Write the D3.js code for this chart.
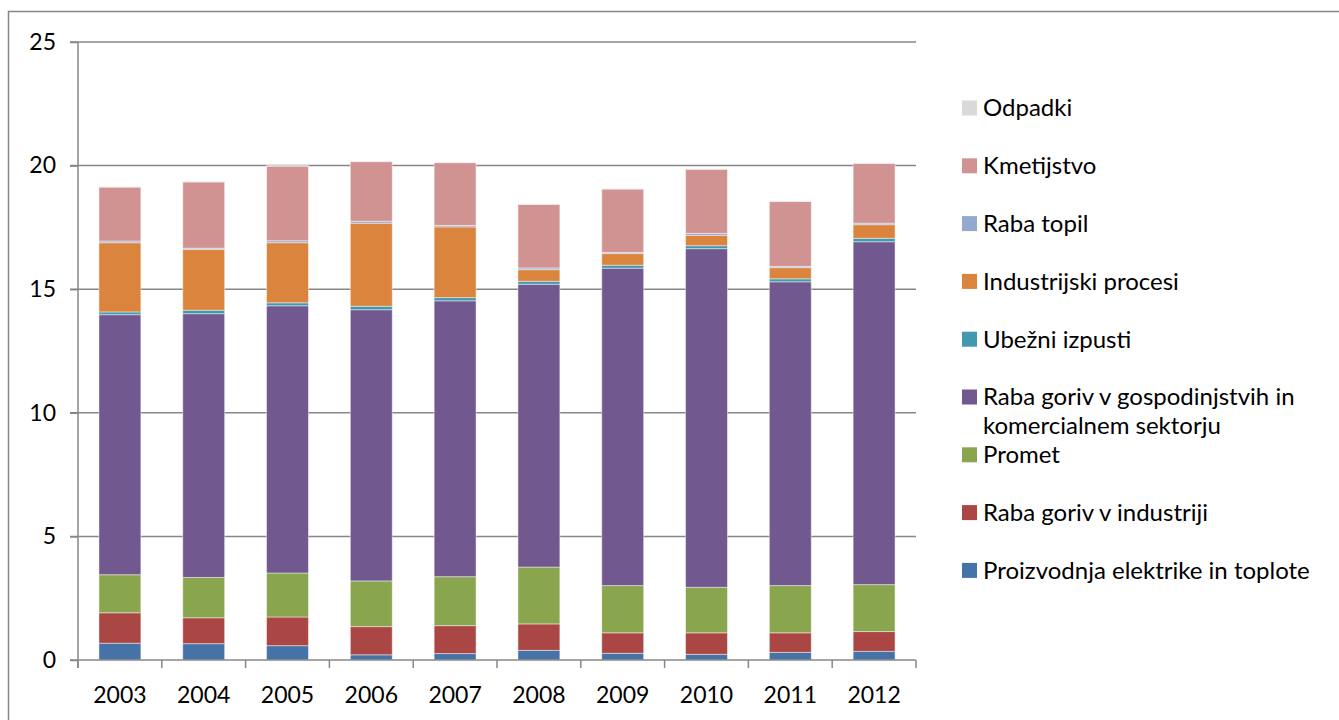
<!DOCTYPE html>
<html>
<head>
<meta charset="utf-8">
<script src="https://cdn.jsdelivr.net/npm/d3@7"></script>
<style>
  body { margin: 0; background: #fff; }
  svg { display: block; font-family: Lato, "Open Sans", sans-serif; }
</style>
</head>
<body>
<svg id="chart" width="1339" height="720"></svg>
<script>
const years = ["2003", "2004", "2005", "2006", "2007", "2008", "2009", "2010", "2011", "2012"];

// series, bottom to top
const proizvodnja = [0.68, 0.66, 0.58, 0.21, 0.26, 0.39, 0.27, 0.23, 0.31, 0.35];
const industrija  = [1.23, 1.05, 1.16, 1.14, 1.13, 1.07, 0.83, 0.87, 0.79, 0.80];
const promet      = [1.54, 1.63, 1.78, 1.85, 1.98, 2.30, 1.91, 1.84, 1.91, 1.90];
const gospodinj   = [10.52, 10.67, 10.81, 10.97, 11.16, 11.44, 12.84, 13.70, 12.29, 13.87];
const ubezni      = [0.11, 0.14, 0.12, 0.14, 0.13, 0.12, 0.12, 0.12, 0.12, 0.14];
const procesi     = [2.80, 2.46, 2.43, 3.36, 2.86, 0.47, 0.47, 0.42, 0.45, 0.55];
const topila      = [0.07, 0.05, 0.08, 0.08, 0.06, 0.07, 0.05, 0.08, 0.05, 0.06];
const kmetijstvo  = [2.18, 2.68, 3.02, 2.41, 2.54, 2.57, 2.56, 2.59, 2.63, 2.42];
const odpadki     = [0.02, 0.02, 0.02, 0.02, 0.02, 0.02, 0.02, 0.02, 0.02, 0.02];

const yTicks = [0, 5, 10, 15, 20, 25];

const series = [
  { key: "Proizvodnja elektrike in toplote", values: proizvodnja, color: "#4572a7" },
  { key: "Raba goriv v industriji", values: industrija, color: "#aa4643" },
  { key: "Promet", values: promet, color: "#89a54e" },
  { key: "Raba goriv v gospodinjstvih in|komercialnem sektorju", values: gospodinj, color: "#71588f" },
  { key: "Ubežni izpusti", values: ubezni, color: "#4198af" },
  { key: "Industrijski procesi", values: procesi, color: "#db843d" },
  { key: "Raba topil", values: topila, color: "#93a9cf" },
  { key: "Kmetijstvo", values: kmetijstvo, color: "#d19392" },
  { key: "Odpadki", values: odpadki, color: "#d9d9d9" }
];

const margins = { top: 42, left: 78, right: 423, bottom: 60 };
const width = 1339, height = 720;

const svg = d3.select("#chart");

// outer frame
svg.append("rect")
  .attr("x", 8.5).attr("y", 11.5)
  .attr("width", 1340).attr("height", 720)
  .attr("fill", "none")
  .attr("stroke", "#878787")
  .attr("stroke-width", 1.5);

const table = years.map((y, i) => {
  const row = { year: y };
  series.forEach(s => row[s.key] = s.values[i]);
  return row;
});
const stacked = d3.stack().keys(series.map(s => s.key))(table);

const x = d3.scaleBand()
  .domain(years)
  .range([margins.left, width - margins.right])
  .paddingInner(0.5)
  .paddingOuter(0.25);

const y = d3.scaleLinear()
  .domain([0, 25])
  .range([660, margins.top]);

// gridlines
svg.append("g")
  .selectAll("line")
  .data(yTicks.filter(d => d > 0))
  .join("line")
  .attr("x1", margins.left - 8)
  .attr("x2", width - margins.right)
  .attr("y1", d => y(d))
  .attr("y2", d => y(d))
  .attr("stroke", "#878787")
  .attr("stroke-width", 1.5);

// bars
const color = d3.scaleOrdinal().domain(series.map(s => s.key)).range(series.map(s => s.color));
svg.append("g")
  .selectAll("g")
  .data(stacked)
  .join("g")
  .attr("fill", d => color(d.key))
  .selectAll("rect")
  .data(d => d)
  .join("rect")
  .attr("x", d => x(d.data.year))
  .attr("y", d => y(d[1]))
  .attr("height", d => y(d[0]) - y(d[1]))
  .attr("width", x.bandwidth())
  .attr("stroke", "#ffffff")
  .attr("stroke-opacity", 0.45)
  .attr("stroke-width", 1);

// y axis
const yAxis = d3.axisLeft(y).tickValues(yTicks).tickSize(8).tickPadding(14);
svg.append("g")
  .attr("class", "axis y-axis")
  .attr("transform", `translate(${margins.left},0)`)
  .call(yAxis)
  .call(g => g.select(".domain").attr("d", `M0,${y(25)}V668`))
  .call(g => g.selectAll("line, path").attr("stroke", "#878787").attr("stroke-width", 1.5))
  .call(g => g.selectAll("text").attr("font-size", 23).attr("fill", "#000").attr("font-family", "Lato"));

// x axis
svg.append("g")
  .attr("class", "axis x-axis")
  .attr("transform", `translate(0,660)`)
  .call(g => g.append("line")
    .attr("x1", margins.left - 8).attr("x2", width - margins.right)
    .attr("stroke", "#878787").attr("stroke-width", 1.5))
  .call(g => g.selectAll("line.tick")
    .data(d3.range(years.length + 1))
    .join("line")
    .attr("class", "tick")
    .attr("x1", i => margins.left + i * (width - margins.left - margins.right) / years.length)
    .attr("x2", i => margins.left + i * (width - margins.left - margins.right) / years.length)
    .attr("y1", 0).attr("y2", 8)
    .attr("stroke", "#878787").attr("stroke-width", 1.5))
  .call(g => g.selectAll("text")
    .data(years)
    .join("text")
    .attr("x", d => x(d) + x.bandwidth() / 2)
    .attr("y", 43)
    .attr("text-anchor", "middle")
    .attr("font-size", 23)
    .text(d => d));

// legend
const legendItems = series.slice().reverse();
const legend = svg.append("g").attr("transform", "translate(962,108)");
const item = legend.selectAll("g")
  .data(legendItems)
  .join("g")
  .attr("transform", (d, i) => `translate(0,${i * 57.8})`);
item.append("rect")
  .attr("x", 0).attr("y", -7.5)
  .attr("width", 15).attr("height", 15)
  .attr("fill", d => d.color);
item.append("text")
  .attr("x", 21)
  .attr("font-size", 24)
  .attr("fill", "#000")
  .selectAll("tspan")
  .data(d => d.key.split("|"))
  .join("tspan")
  .attr("x", 21)
  .attr("y", (d, i) => i * 29)
  .attr("dy", "0.35em")
  .text(d => d);
</script>
</body>
</html>
